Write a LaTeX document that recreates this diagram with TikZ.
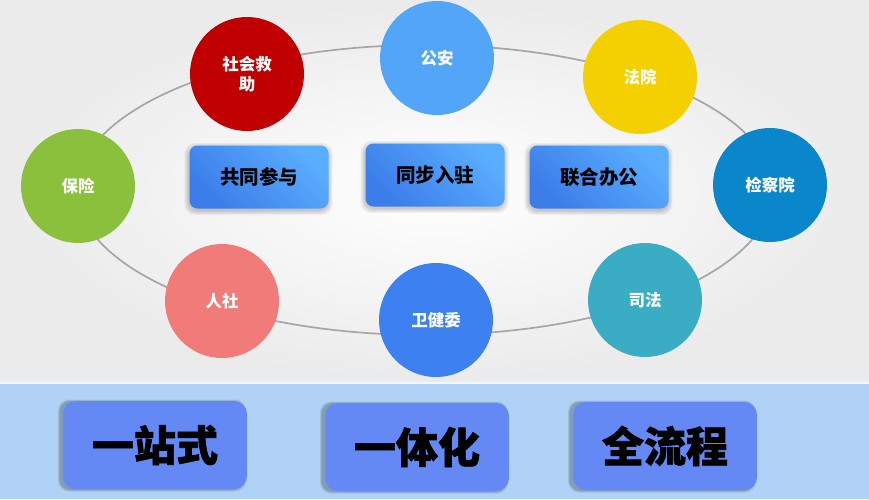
\documentclass[tikz,border=0pt]{standalone}
\usepackage{fontspec}
\newfontfamily\cjk{Noto Sans CJK SC}
\newfontfamily\cjkheavy{Noto Sans CJK SC}[BoldFeatures={FakeBold=1.6}]
\usetikzlibrary{calc}
\pgfdeclarelayer{back}
\pgfdeclarelayer{shad}
\pgfsetlayers{back,shad,main}
\definecolor{cRed}{HTML}{C00000}
\definecolor{cSky}{HTML}{52A5F7}
\definecolor{cYel}{HTML}{F5D000}
\definecolor{cDeep}{HTML}{0A86CB}
\definecolor{cTeal}{HTML}{3AACC4}
\definecolor{cBlue}{HTML}{3D80F0}
\definecolor{cSalm}{HTML}{F07B78}
\definecolor{cGreen}{HTML}{8BC03C}
\definecolor{bBar}{HTML}{B0D2F6}
\definecolor{bBox}{HTML}{6489F5}
\definecolor{gDark}{HTML}{3B7DE9}
\definecolor{gLight}{HTML}{5AAEFF}
\tikzset{
  circ/.style={circle, minimum size=114pt, inner sep=0pt, text=white,
    font=\cjk\bfseries\fontsize{16.5}{20}\selectfont, align=center},
  midbox/.style={rounded corners=8pt, minimum width=139pt, minimum height=63pt,
    bottom color=gDark, top color=gLight, shading angle=-45,
    font=\cjk\bfseries\fontsize{19.5}{22}\selectfont, text=black},
  botbox/.style={rounded corners=13pt, minimum width=184pt, minimum height=88pt, fill=bBox,
    font=\cjkheavy\bfseries\fontsize{42}{44}\selectfont, text=black},
}
\newcommand\softshade[5]{% node, dx, dy, opacity, spreads
  \foreach \k in {#5}{
    \fill[black, opacity=#4, rounded corners=11pt]
      ($(#1.south west)+(#2-\k,#3+\k)$) rectangle ($(#1.north east)+(#2+\k,#3-\k)$);
  }}
\begin{document}
\begin{tikzpicture}[x=1pt,y=-1pt]
\useasboundingbox (0,0) rectangle (869,499);
\begin{pgfonlayer}{back}
\shade[inner color=white, outer color=black!8] (0,0) rectangle (869,383);
\fill[bBar] (0,383) rectangle (869,499);
\draw[white!85!bBar, line width=2pt] (0,383) -- (869,383);
\draw[black!35, line width=1.7pt] (425,190) ellipse [x radius=348, y radius=145];
\end{pgfonlayer}
\node[circ, fill=cRed] (jiuzhu) at (247,74) {社会救\\助};
\node[circ, fill=cSky] (gongan) at (437,58) {公安};
\node[circ, fill=cYel] (fayuan) at (640,77) {法院};
\node[circ, fill=cDeep] (jianchayuan) at (770,185) {检察院};
\node[circ, fill=cTeal] (sifa) at (645,300) {司法};
\node[circ, fill=cBlue] (weijianwei) at (436,320) {卫健委};
\node[circ, fill=cSalm] (renshe) at (222,301) {人社};
\node[circ, fill=cGreen] (baoxian) at (78,186) {保险};
\node[midbox] (canyu) at (259,177) {共同参与};
\node[midbox] (ruzhu) at (435,175) {同步入驻};
\node[midbox] (bangong) at (599,177) {联合办公};
\node[botbox] (yizhan) at (155,445) {一站式};
\node[botbox] (yiti) at (417,447) {一体化};
\node[botbox] (quanliu) at (665,446) {全流程};
\begin{pgfonlayer}{shad}
\softshade{canyu}{-0.5}{2}{0.045}{0.5,1.5,2.5,3.5,4.5}
\softshade{ruzhu}{-0.5}{2}{0.045}{0.5,1.5,2.5,3.5,4.5}
\softshade{bangong}{-0.5}{2}{0.045}{0.5,1.5,2.5,3.5,4.5}
\softshade{yizhan}{-3}{0.5}{0.09}{0.3,1,1.8}
\softshade{yiti}{-3}{0.5}{0.09}{0.3,1,1.8}
\softshade{quanliu}{-3}{0.5}{0.09}{0.3,1,1.8}
\end{pgfonlayer}
\end{tikzpicture}
\end{document}
